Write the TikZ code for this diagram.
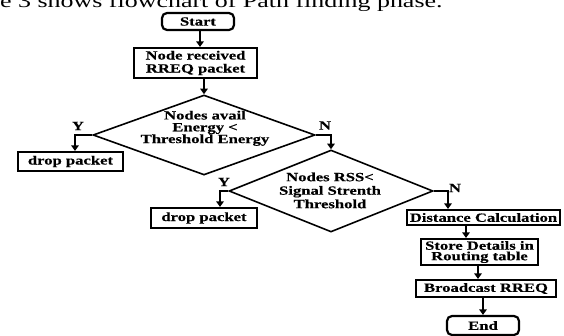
\documentclass[tikz,border=0pt]{standalone}
\usepackage{fontspec}
\setmainfont{Liberation Serif}[FakeStretch=1.38]
\newfontfamily\bfont{Liberation Serif}[FakeStretch=1.33,FakeBold=0.4,UprightFont=* Bold]
\usetikzlibrary{shapes.geometric,arrows.meta}
\begin{document}
\begin{tikzpicture}[x=1pt,y=-1pt,
  box/.style={draw,line width=2.2pt,inner sep=0pt,font=\bfont\fontsize{12.5}{13}\selectfont,align=center},
  term/.style={box,rounded corners=5pt},
  dia/.style={draw,shape=diamond,line width=1.6pt,inner sep=0pt},
  dtxt/.style={font=\bfont\fontsize{12.5}{11.8}\selectfont,align=center,inner sep=0pt},
  lbl/.style={font=\bfont\fontsize{12.5}{12}\selectfont,inner sep=0pt},
  arr/.style={line width=2pt,-{Triangle[width=7.5pt,length=5.5pt]}}]
\useasboundingbox (0,0) rectangle (564,335);
\node[anchor=base west,inner sep=0pt,font=\fontsize{18.8}{20}\selectfont] (cap) at (0,7.5) {e 3 shows flowchart of Path finding phase.};
\node[term,minimum width=72pt,minimum height=17pt] (start) at (198,21.5) {Start};
\node[box,minimum width=123pt,minimum height=30pt] (recv) at (195.5,63) {Node received\\RREQ packet};
\node[dia,minimum width=222pt,minimum height=80pt] (d1) at (204,135) {};
\node[dtxt] (d1t) at (205,128.3) {Nodes avail\\Energy <\\Threshold Energy};
\node[box,minimum width=105pt,minimum height=19pt] (drop1) at (70.5,161.5) {drop packet};
\node[dia,minimum width=204pt,minimum height=82pt] (d2) at (331,191) {};
\node[dtxt,font=\bfont\fontsize{12.5}{13.5}\selectfont] (d2t) at (330,190.4) {Nodes RSS<\\Signal Strenth\\Threshold};
\node[box,minimum width=106pt,minimum height=20pt] (drop2) at (204,218) {drop packet};
\node[box,minimum width=153pt,minimum height=15pt] (dist) at (483.5,217.5) {Distance Calculation};
\node[box,minimum width=117pt,minimum height=26pt,font=\bfont\fontsize{12.5}{10.5}\selectfont] (store) at (479.5,252) {Store Details in\\Routing table};
\node[box,minimum width=140pt,minimum height=17pt] (bcast) at (486,288.5) {Broadcast RREQ};
\node[term,minimum width=72pt,minimum height=19pt] (end) at (483,325.5) {End};
\node[lbl] (y1) at (78,126) {Y};
\node[lbl] (n1) at (325,125.5) {N};
\node[lbl] (y2) at (224,182) {Y};
\node[lbl] (n2) at (455,188) {N};
\draw[arr] ([xshift=2pt]start.south) -- ([xshift=2pt]start.south |- recv.north);
\draw[arr] (recv.south -| d1.north) -- (d1.north);
\draw[arr] (d1.west) -| ([xshift=4.5pt]drop1.north);
\draw[arr] (d1.east) -| (d2.north);
\draw[arr] (d2.west) -| ([xshift=16pt]drop2.north);
\draw[arr] (d2.east) -| ([xshift=-35.5pt]dist.north);
\draw[arr] ([xshift=-17.5pt]dist.south) -- ([xshift=-17.5pt]dist.south |- store.north);
\draw[arr] ([xshift=-1.5pt]store.south) -- ([xshift=-1.5pt]store.south |- bcast.north);
\draw[arr] ([xshift=-3pt]bcast.south) -- ([xshift=-3pt]bcast.south |- end.north);
\end{tikzpicture}
\end{document}
